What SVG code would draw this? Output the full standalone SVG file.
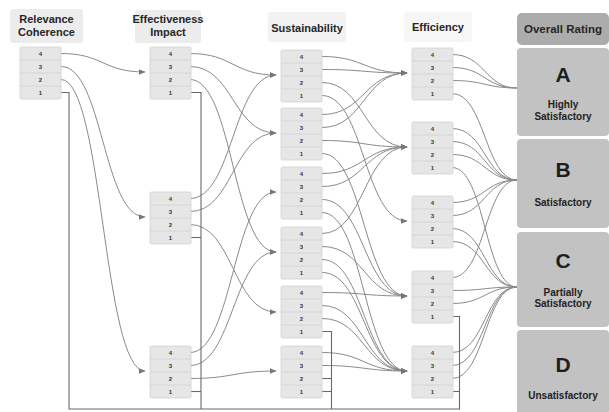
<svg xmlns="http://www.w3.org/2000/svg" width="609" height="412" viewBox="0 0 609 412">
<defs>
<marker id="ah" markerWidth="7" markerHeight="6" refX="6.5" refY="3" orient="auto" markerUnits="userSpaceOnUse">
<path d="M0,0 L7,3 L0,6 z" fill="#777"/>
</marker>
<style>
.hdr{fill:#ececec;}
.hdrt{font-family:"Liberation Sans",Arial,sans-serif;font-weight:bold;font-size:11px;fill:#262626;text-anchor:middle;}
.box{fill:#e6e6e6;stroke:#d2d2d2;stroke-width:0.8;}
.sep{stroke:#d0d0d0;stroke-width:0.8;}
.num{font-family:"Liberation Sans",Arial,sans-serif;font-weight:bold;font-size:6px;fill:#333;text-anchor:middle;}
.rate{fill:#c2c2c2;}
.big{font-family:"Liberation Sans",Arial,sans-serif;font-weight:bold;font-size:21px;fill:#1e1e1e;text-anchor:middle;}
.sub{font-family:"Liberation Sans",Arial,sans-serif;font-weight:bold;font-size:10px;fill:#222;text-anchor:middle;}
.c{fill:none;stroke:#8a8a8a;stroke-width:1;}
.a{marker-end:url(#ah);}
.v{fill:none;stroke:#6a6a6a;stroke-width:1.1;}
</style>
<g id="nodebox">
<rect class="box" x="0" y="0" width="41" height="52" rx="1.5"/>
<line class="sep" x1="0" y1="13" x2="41" y2="13"/>
<line class="sep" x1="0" y1="26" x2="41" y2="26"/>
<line class="sep" x1="0" y1="39" x2="41" y2="39"/>
<text class="num" x="20.5" y="8.6">4</text>
<text class="num" x="20.5" y="21.6">3</text>
<text class="num" x="20.5" y="34.6">2</text>
<text class="num" x="20.5" y="47.6">1</text>
</g>
</defs>
<rect width="609" height="412" fill="#ffffff"/>

<g id="headers">
<g id="h-relevance"><rect class="hdr" x="10" y="9" width="73" height="34" rx="3"/>
<text class="hdrt" x="46.5" y="23">Relevance</text><text class="hdrt" x="46.5" y="36">Coherence</text></g>
<g id="h-effectiveness"><rect class="hdr" x="135" y="10" width="66" height="33" rx="3"/>
<text class="hdrt" x="168" y="23">Effectiveness</text><text class="hdrt" x="168" y="36">Impact</text></g>
<g id="h-sustainability"><rect class="hdr" x="268" y="12" width="78" height="30" rx="3" style="fill:#f2f2f2"/>
<text class="hdrt" x="307" y="32">Sustainability</text></g>
<g id="h-efficiency"><rect class="hdr" x="404" y="12" width="68" height="30" rx="3" style="fill:#f6f6f6"/>
<text class="hdrt" x="438" y="31">Efficiency</text></g>
<g id="h-overall"><rect x="517" y="13" width="92" height="32" rx="5" fill="#acacac"/>
<text class="hdrt" x="563" y="33" style="font-size:11.5px">Overall Rating</text></g>
</g>

<g id="connectors">
<!-- Relevance -> Effectiveness -->
<path class="c a" d="M61 53.5 C103 53.5 103 72 145 72"/>
<path class="c a" d="M61 66.5 C103 66.5 103 217 145 217"/>
<path class="c a" d="M61 79.5 C103 79.5 103 371 145 371"/>
<!-- Effectiveness -> Sustainability -->
<path class="c a" d="M190 53.5 C233 53.5 233 75 276 75"/>
<path class="c a" d="M190 66.5 C233 66.5 233 133 276 133"/>
<path class="c a" d="M190 79.5 C233 79.5 233 252 276 252"/>
<path class="c a" d="M190 198.5 C233 198.5 233 75 276 75"/>
<path class="c a" d="M190 211.5 C233 211.5 233 133 276 133"/>
<path class="c a" d="M190 224.5 C233 224.5 233 312 276 312"/>
<path class="c a" d="M190 352.5 C233 352.5 233 192 276 192"/>
<path class="c a" d="M190 365.5 C233 365.5 233 252 276 252"/>
<path class="c a" d="M190 378.5 C233 378.5 233 371 276 371"/>
<!-- Sustainability -> Efficiency -->
<path class="c a" d="M322 56.5 C364 56.5 364 73 407 73"/>
<path class="c a" d="M322 69.5 C364 69.5 364 73 407 73"/>
<path class="c a" d="M322 82.5 C364 82.5 364 147 407 147"/>
<path class="c a" d="M322 95.5 C364 95.5 364 221 407 221"/>
<path class="c a" d="M322 114.5 C364 114.5 364 73 407 73"/>
<path class="c a" d="M322 127.5 C364 127.5 364 73 407 73"/>
<path class="c a" d="M322 140.5 C364 140.5 364 147 407 147"/>
<path class="c a" d="M322 153.5 C364 153.5 364 296 407 296"/>
<path class="c a" d="M322 173.5 C364 173.5 364 147 407 147"/>
<path class="c a" d="M322 186.5 C364 186.5 364 147 407 147"/>
<path class="c a" d="M322 199.5 C364 199.5 364 296 407 296"/>
<path class="c a" d="M322 212.5 C364 212.5 364 371 407 371"/>
<path class="c a" d="M322 233.5 C364 233.5 364 147 407 147"/>
<path class="c a" d="M322 246.5 C364 246.5 364 296 407 296"/>
<path class="c a" d="M322 259.5 C364 259.5 364 371 407 371"/>
<path class="c a" d="M322 272.5 C364 272.5 364 371 407 371"/>
<path class="c a" d="M322 292.5 C364 292.5 364 296 407 296"/>
<path class="c a" d="M322 305.5 C364 305.5 364 371 407 371"/>
<path class="c a" d="M322 318.5 C364 318.5 364 371 407 371"/>
<path class="c a" d="M322 352.5 C364 352.5 364 371 407 371"/>
<path class="c a" d="M322 365.5 C364 365.5 364 371 407 371"/>
<!-- Efficiency -> Overall rating -->
<path class="c" d="M452 54.5 C485 54.5 485 88 517 88"/>
<path class="c" d="M452 67.5 C485 67.5 485 88 517 88"/>
<path class="c" d="M452 80.5 C485 80.5 485 88 517 88"/>
<path class="c" d="M452 93.5 C485 93.5 485 180 517 180"/>
<path class="c" d="M452 128.5 C485 128.5 485 180 517 180"/>
<path class="c" d="M452 141.5 C485 141.5 485 180 517 180"/>
<path class="c" d="M452 154.5 C485 154.5 485 180 517 180"/>
<path class="c" d="M452 167.5 C485 167.5 485 287 517 287"/>
<path class="c" d="M452 202.5 C485 202.5 485 180 517 180"/>
<path class="c" d="M452 215.5 C485 215.5 485 180 517 180"/>
<path class="c" d="M452 228.5 C485 228.5 485 287 517 287"/>
<path class="c" d="M452 241.5 C485 241.5 485 287 517 287"/>
<path class="c" d="M452 277.5 C485 277.5 485 180 517 180"/>
<path class="c" d="M452 290.5 C485 290.5 485 287 517 287"/>
<path class="c" d="M452 303.5 C485 303.5 485 287 517 287"/>
<path class="c" d="M452 352.5 C485 352.5 485 287 517 287"/>
<path class="c" d="M452 365.5 C485 365.5 485 287 517 287"/>
<path class="c" d="M452 378.5 C485 378.5 485 287 517 287"/>
<!-- rating 1 lines to bottom bus -->
<path class="v" d="M61 92.5 H69 V409 H460"/>
<path class="v" d="M190 92.5 H201 V409"/>
<path class="v" d="M190 237.5 H201"/>
<path class="v" d="M190 391.5 H201"/>
<path class="v" d="M322 331.5 H331.5 V409"/>
<path class="v" d="M322 378.5 H331.5"/>
<path class="v" d="M322 391.5 H331.5"/>
<path class="v" d="M452 316.5 H459.5 V409"/>
<path class="v" d="M452 391.5 H459.5"/>
</g>

<g id="relevance"><use href="#nodebox" x="20" y="47"/></g>
<g id="effectiveness-4"><use href="#nodebox" x="150" y="47"/></g>
<g id="effectiveness-3"><use href="#nodebox" x="150" y="192"/></g>
<g id="effectiveness-2"><use href="#nodebox" x="150" y="346"/></g>
<g id="sustainability-1"><use href="#nodebox" x="281" y="50"/></g>
<g id="sustainability-2"><use href="#nodebox" x="281" y="108"/></g>
<g id="sustainability-3"><use href="#nodebox" x="281" y="167"/></g>
<g id="sustainability-4"><use href="#nodebox" x="281" y="227"/></g>
<g id="sustainability-5"><use href="#nodebox" x="281" y="286"/></g>
<g id="sustainability-6"><use href="#nodebox" x="281" y="346"/></g>
<g id="efficiency-1"><use href="#nodebox" x="412" y="48"/></g>
<g id="efficiency-2"><use href="#nodebox" x="412" y="122"/></g>
<g id="efficiency-3"><use href="#nodebox" x="412" y="196"/></g>
<g id="efficiency-4"><use href="#nodebox" x="412" y="271"/></g>
<g id="efficiency-5"><use href="#nodebox" x="412" y="346"/></g>

<g id="rating-A"><rect class="rate" x="517" y="48" width="92" height="88" rx="4"/>
<text class="big" x="563" y="82">A</text><text class="sub" x="563" y="108">Highly</text><text class="sub" x="563" y="120">Satisfactory</text></g>
<g id="rating-B"><rect class="rate" x="517" y="139" width="92" height="89" rx="4"/>
<text class="big" x="563" y="177">B</text><text class="sub" x="563" y="206">Satisfactory</text></g>
<g id="rating-C"><rect class="rate" x="517" y="232" width="92" height="95" rx="4"/>
<text class="big" x="563" y="268">C</text><text class="sub" x="563" y="296">Partially</text><text class="sub" x="563" y="307">Satisfactory</text></g>
<g id="rating-D"><rect class="rate" x="517" y="330" width="92" height="84" rx="4"/>
<text class="big" x="563" y="372">D</text><text class="sub" x="563" y="399">Unsatisfactory</text></g>
</svg>
